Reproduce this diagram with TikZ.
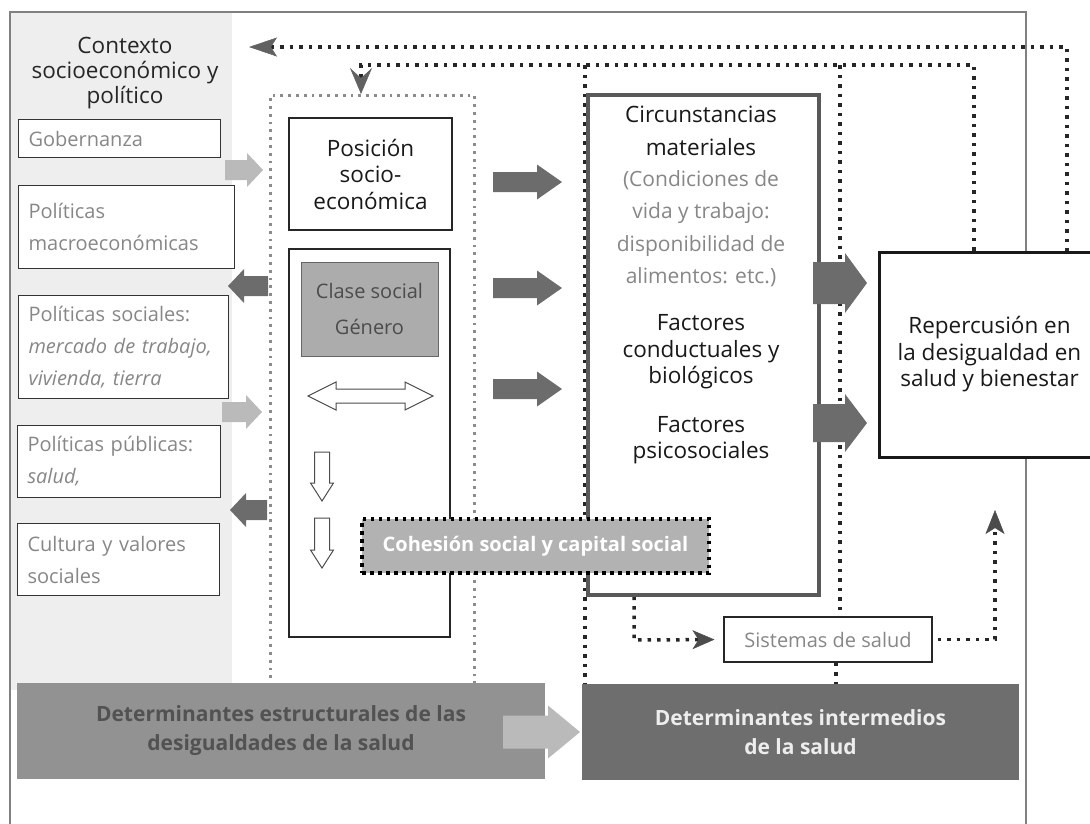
\documentclass[tikz,border=0pt]{standalone}
\usepackage{fontspec}
\setmainfont{Open Sans}
\usepackage{xcolor}
\usepackage{tikz}
\usetikzlibrary{arrows.meta,backgrounds}

\definecolor{panel}{RGB}{238,238,238}
\definecolor{txtgray}{RGB}{135,135,135}
\definecolor{arrdark}{RGB}{108,108,108}
\definecolor{arrlight}{RGB}{186,186,186}
\definecolor{clasefill}{RGB}{172,172,172}
\definecolor{cohefill}{RGB}{178,178,178}
\definecolor{barstr}{RGB}{146,146,146}
\definecolor{barint}{RGB}{110,110,110}
\definecolor{framegray}{RGB}{128,128,128}

\newcommand{\bigtxt}{\fontsize{22.5pt}{26.5pt}\selectfont}
\newcommand{\smltxt}{\fontsize{20pt}{32pt}\selectfont}

\newcommand{\fatarrow}[7]{%
  \pgfmathsetmacro\fatneck{#3-#7*(#3-#2)/abs(#3-#2)}%
  \fill[#1] (#2,#4-#5) -- (\fatneck,#4-#5) -- (\fatneck,#4-#6) -- (#3,#4) -- (\fatneck,#4+#6) -- (\fatneck,#4+#5) -- (#2,#4+#5) -- cycle;}

\newcommand{\hollowdown}[3]{%
  \draw[hollow] (#1-7.5,#2) -- (#1+7.5,#2) -- (#1+7.5,#3-18) -- (#1+11.5,#3-18) -- (#1,#3) -- (#1-11.5,#3-18) -- (#1-7.5,#3-18) -- cycle;}

\begin{document}
\begin{tikzpicture}[x=1pt,y=1pt,yscale=-1,xscale=1,
  fdots/.style={draw=black!85, line width=3.5pt, dash pattern=on 3.5pt off 6pt},
  sdots/.style={draw=black!45, line width=2.8pt, dash pattern=on 2.8pt off 5pt},
  ctxbox/.style={draw=black!80, line width=1.1pt, fill=white, anchor=north west, inner xsep=10pt, inner ysep=0pt, text width=#1, align=left, text=txtgray, font=\smltxt},
  plainbox/.style={draw=black!85, line width=1.1pt, fill=white},
  hollow/.style={draw=black!70, line width=1pt, fill=white},
  tipgray/.style={-{Stealth[length=#1,width=19pt,inset=6pt,color=black!70,line width=0.5pt]}}
]

\useasboundingbox (0,0) rectangle (1090,823);


\node[ctxbox=182pt, minimum height=38pt] (gob) at (18,119) {Gobernanza};

\node[ctxbox=196pt, minimum height=83pt] (macro) at (18,185) {Políticas\\macroeconómicas};

\node[ctxbox=190pt, minimum height=103pt] (soc) at (18,295) {Políticas sociales:\\\textit{mercado de trabajo,}\\\textit{vivienda, tierra}};

\node[ctxbox=183pt, minimum height=72pt] (pub) at (17,425) {Políticas públicas:\\\textit{salud,}};

\node[ctxbox=182pt, minimum height=72pt] (cult) at (17,523) {Cultura y valores\\sociales};

\node[align=center, font=\fontsize{22.5pt}{25pt}\selectfont, text=black!85] (ctx) at (125,73) {Contexto\\socioeconómico y\\político};


\node[sdots, anchor=north west, minimum width=204pt, minimum height=650pt, inner sep=0pt] (str) at (269,94) {};

\node[plainbox, minimum width=163pt, minimum height=112pt, align=center, font=\bigtxt, text=black!90] (pos) at (370.5,174) {Posición\\socio-\\económica};

\node[plainbox, minimum width=161pt, minimum height=388pt] (col) at (369.5,443) {};

\node[draw=black!60, fill=clasefill, minimum width=137pt, minimum height=94pt, align=center, font=\fontsize{20pt}{36pt}\selectfont, text=black!70] (clase) at (369.5,309) {Clase social\\Género};

\draw[hollow] (308,396) -- (336,382) -- (336,389) -- (405,389) -- (405,382) -- (433,396) -- (405,410) -- (405,403) -- (336,403) -- (336,410) -- cycle;

\hollowdown{322}{452}{501}
\hollowdown{322}{518}{568}


\node[draw=black!65, line width=3.5pt, fill=white, anchor=north west, minimum width=231pt, minimum height=500pt] (circ) at (586,93) {};

\node[align=center, font=\fontsize{22.5pt}{32.4pt}\selectfont, text=black!90] (circA) at (701,131) {Circunstancias\\materiales};

\node[align=center, font=\fontsize{21pt}{32.4pt}\selectfont, text=txtgray] (circG) at (701,228.5) {(Condiciones de\\vida y trabajo:\\disponibilidad de\\alimentos: etc.)};

\node[align=center, font=\bigtxt, text=black!90] (circB) at (701,352) {Factores\\conductuales y\\biológicos};

\node[align=center, font=\bigtxt, text=black!90] (circC) at (701,440) {Factores\\psicosociales};

\node[draw=black!90, line width=3pt, fill=white, minimum width=221pt, minimum height=205pt, align=center, font=\bigtxt, text=black!90] (rep) at (989.5,354.5) {Repercusión en\\la desigualdad en\\salud y bienestar};

\node[plainbox, minimum width=208pt, minimum height=45pt, font=\fontsize{20pt}{24pt}\selectfont, text=txtgray] (sis) at (828,639.5) {Sistemas de salud};


\fatarrow{arrlight}{225}{263}{170}{10}{17}{16}
\fatarrow{arrdark}{268}{228}{286}{10}{17}{16}
\fatarrow{arrlight}{222}{262}{412}{10}{17}{16}
\fatarrow{arrdark}{267}{230}{510}{10}{17}{16}

\fatarrow{arrdark}{493}{562}{182}{10}{17.5}{25}
\fatarrow{arrdark}{493}{562}{288}{10}{17.5}{25}
\fatarrow{arrdark}{493}{562}{389}{10}{17.5}{25}

\fatarrow{arrdark}{813}{867}{283}{21}{30}{22}
\fatarrow{arrdark}{813}{867}{423}{19}{29}{22}


\node[fill=barstr, minimum width=528pt, minimum height=96pt, align=center, font=\bfseries\fontsize{21pt}{29pt}\selectfont, text=black!68] (barE) at (281,731) {Determinantes estructurales de las\\desigualdades de la salud};

\node[fill=barint, minimum width=437pt, minimum height=96pt, align=center, font=\bfseries\fontsize{21pt}{29pt}\selectfont, text=white!93!black] (barI) at (800.5,732) {Determinantes intermedios\\de la salud};

\fatarrow{arrlight}{503}{580}{732}{16.5}{26.5}{32}

\node[fill=cohefill, draw=black, line width=3.5pt, dash pattern=on 3.5pt off 4.5pt, minimum width=347pt, minimum height=54pt, font=\bfseries\fontsize{20pt}{24pt}\selectfont, text=white] (cohe) at (535.5,546) {Cohesión social y capital social};


\coordinate (ctxin) at (249,47);
\coordinate (ret1) at (1067,47);
\coordinate (ret2) at (974,65);
\coordinate (brk) at (361,65);
\coordinate (c585) at (585,65);
\coordinate (c840) at (840,65);
\coordinate (c634) at (634,640);
\coordinate (c995) at (995,510);

\begin{scope}[on background layer]
\fill[panel] (10,12) rectangle (232,690);
\draw[framegray, line width=2.5pt] (10,835) -- (10,12) -- (1026,12) -- (1026,835);

\draw[fdots, {Stealth[length=28pt,width=19pt,inset=6pt,color=black!62,line width=0.5pt]}-] (ctxin) -- (ret1) -- (rep.north -| ret1);

\draw[fdots, -{Stealth[length=26pt,width=22pt,inset=10pt,color=black!62,line width=0.5pt]}] (rep.north -| ret2) -- (ret2) -- (brk) -- (brk |- str.north);

\draw[fdots] (c585) -- (c585 |- barI.north);

\draw[fdots] (c840) -- (c840 |- sis.north);

\draw[fdots] ([xshift=8pt]sis.south) -- ([xshift=8pt]sis.south |- barI.north);

\draw[fdots, shorten >=9pt, tipgray=22pt] (circ.south -| c634) -- (c634) -- (sis.west);

\draw[fdots, shorten <=5pt, tipgray=24pt] (sis.east) -- (sis.east -| c995) -- (c995);
\end{scope}

\end{tikzpicture}
\end{document}
